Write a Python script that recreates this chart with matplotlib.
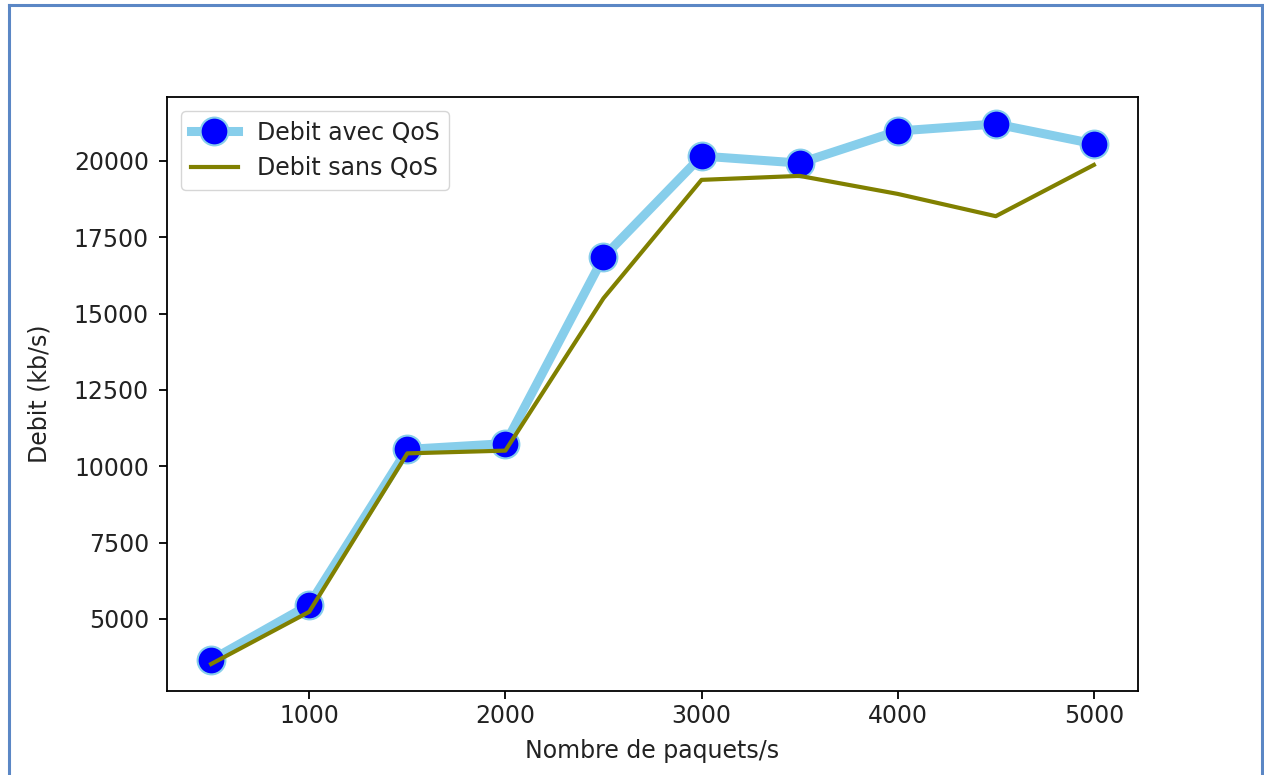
import matplotlib.pyplot as plt
from matplotlib.lines import Line2D

paquets = [500, 1000, 1500, 2000, 2500, 3000, 3500, 4000, 4500, 5000]
debit_avec_qos = [3650, 5460, 10550, 10740, 16850, 20160, 19930, 20980, 21210, 20560]
debit_sans_qos = [3520, 5230, 10420, 10510, 15500, 19380, 19510, 18920, 18190, 19870]

W, H = 1264, 775
fig = plt.figure(figsize=(W / 100, H / 100), dpi=100)

# axes box in pixels: left 167, right 1138, top 97, bottom 691
ax = fig.add_axes([167 / W, 1 - 691 / H, (1138 - 167) / W, (691 - 97) / H])

ax.plot(paquets, debit_avec_qos, color='skyblue', linewidth=6.5,
        marker='o', markersize=20, markerfacecolor='blue',
        markeredgecolor='skyblue', markeredgewidth=1.5,
        label='Debit avec QoS')
ax.plot(paquets, debit_sans_qos, color='olive', linewidth=3,
        label='Debit sans QoS')

ax.set_xticks([1000, 2000, 3000, 4000, 5000])
ax.set_yticks([5000, 7500, 10000, 12500, 15000, 17500, 20000])
ax.tick_params(labelsize=17, length=6, width=1.3, labelcolor='#222222')
ax.tick_params(axis='y', pad=7)
for s in ax.spines.values():
    s.set_linewidth(1.3)

ax.set_xlabel('Nombre de paquets/s', fontsize=17, labelpad=8, color='#222222')
ax.set_ylabel('Debit (kb/s)', fontsize=17, labelpad=16, color='#222222')
leg = ax.legend(loc='upper left', fontsize=17, borderaxespad=0.6)
for t in leg.get_texts():
    t.set_color('#222222')

# blue frame around the screenshot
frame = '#5b87c5'
x0, x1, y1 = 8.5 / W, 1262 / W, 1 - 4.5 / H
fig.add_artist(Line2D([x0, x0], [0, y1], color=frame, linewidth=2.2))
fig.add_artist(Line2D([x0, x1], [y1, y1], color=frame, linewidth=2.2))
fig.add_artist(Line2D([x1, x1], [0, y1], color=frame, linewidth=2.2))

fig.savefig('out.png', dpi=100)
